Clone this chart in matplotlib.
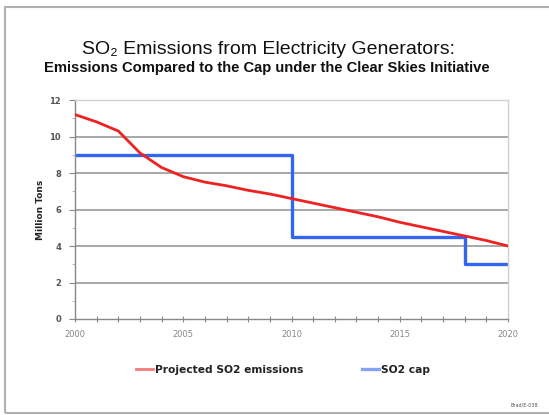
import matplotlib
matplotlib.use("Agg")
import matplotlib.pyplot as plt
from matplotlib.patches import Rectangle
from matplotlib.ticker import MultipleLocator, FixedLocator

years = list(range(2000, 2021))
projected = [11.2, 10.8, 10.3, 9.1, 8.3, 7.8, 7.5, 7.3, 7.05, 6.85, 6.6,
             6.35, 6.1, 5.85, 5.6, 5.3, 5.05, 4.8, 4.55, 4.3, 4.0]
cap_years = [2000, 2010, 2018, 2020]
cap_values = [9.0, 4.5, 3.0, 3.0]
y_ticks = [0, 2, 4, 6, 8, 10, 12]
x_ticks = [2000, 2005, 2010, 2015, 2020]

W, H = 549, 415
fig = plt.figure(figsize=(W / 100, H / 100), dpi=100)
fig.patch.set_facecolor("white")

# outer border
fig.add_artist(Rectangle((5 / W, 1 - 413 / H), 600 / W, (413 - 7) / H,
                         transform=fig.transFigure, fill=False,
                         edgecolor="#b0b0b0", linewidth=1.5))

ax = fig.add_axes([75 / W, 1 - 319 / H, (508 - 75) / W, (319 - 100) / H])
ax.set_xlim(2000, 2020)
ax.set_ylim(0, 12)

for y in y_ticks[1:]:
    ax.axhline(y, color="#a8a8a8", linewidth=1.4, zorder=1)

ax.plot(years, projected, color="#ee2222", linewidth=2.0, zorder=3,
        label="Projected SO2 emissions")
ax.plot(cap_years, cap_values, color="#3366ee", linewidth=2.4, zorder=2,
        drawstyle="steps-post", label="SO2 cap")

for s in ["top", "right"]:
    ax.spines[s].set_color("#d0d0d0")
    ax.spines[s].set_linewidth(1.0)
for s in ["left", "bottom"]:
    ax.spines[s].set_color("#888888")
    ax.spines[s].set_linewidth(1.0)

ax.yaxis.set_major_locator(FixedLocator(y_ticks))
ax.yaxis.set_minor_locator(MultipleLocator(1))
ax.xaxis.set_major_locator(FixedLocator(x_ticks))
ax.xaxis.set_minor_locator(MultipleLocator(1))
ax.tick_params(axis="y", which="major", length=4, width=0.8, color="#888888",
               labelsize=6, labelcolor="#555555", pad=6)
ax.tick_params(axis="y", which="minor", length=2, width=0.6, color="#aaaaaa")
ax.tick_params(axis="x", which="both", direction="inout", length=4, width=0.8,
               color="#888888", labelsize=6, labelcolor="#888888", pad=6)
ax.set_yticklabels([str(v) for v in y_ticks], fontweight="bold")
ax.set_xticklabels([str(v) for v in x_ticks])

ax.set_ylabel("Million Tons", fontsize=6.5, fontweight="bold", color="#222222",
              labelpad=3)

fig.text(268 / W, 1 - 54 / H, "SO₂ Emissions from Electricity Generators:",
         ha="center", va="baseline", fontsize=14, color="#111111",
         family=["Liberation Sans", "DejaVu Sans"])
fig.text(267 / W, 1 - 72 / H,
         "Emissions Compared to the Cap under the Clear Skies Initiative",
         ha="center", va="baseline", fontsize=10.6, fontweight="bold",
         color="#111111", family="Liberation Sans")

leg = fig.legend(loc="center", bbox_to_anchor=(283 / W, 1 - 370 / H), ncol=2,
                 frameon=False, fontsize=7.7, handlelength=1.6, handletextpad=0.2,
                 columnspacing=5.5)
for t in leg.get_texts():
    t.set_fontweight("bold")
    t.set_color("#222222")
for h in leg.get_lines():
    h.set_alpha(0.6)

fig.text(538 / W, 1 - 406 / H, "Brad/E-038", ha="right", va="baseline",
         fontsize=3.5, color="#555555")

fig.savefig("out.png", dpi=100)
